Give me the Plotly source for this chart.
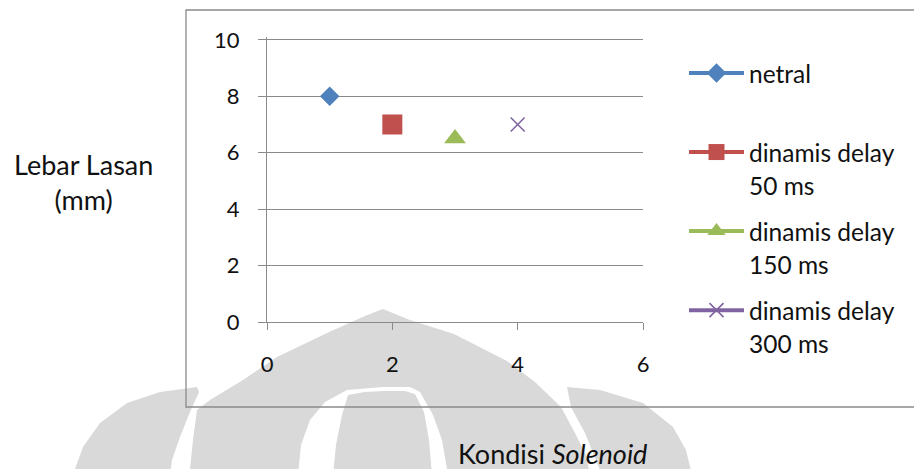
import plotly.graph_objects as go

# Data: weld width (Lebar Lasan, mm) for each solenoid condition
series_labels = [["netral", "\u00a0"],
                 ["dinamis delay", "50 ms"],
                 ["dinamis delay", "150 ms"],
                 ["dinamis delay", "300 ms"]]
kondisi = [1, 2, 3, 4]
lebar_lasan = [8, 7, 6.5, 7]
x_ticks = [0, 2, 4, 6]
y_ticks = [0, 2, 4, 6, 8, 10]

colors = ["#4F81BD", "#C0504D", "#9BBB59", "#8064A2"]
symbols = ["diamond", "square", "triangle-up", "x-thin"]
marker_sizes = [15, 20, 19, 14]

FONT = "Lato"
TEXT = "#111111"
AXIS = "#8a8a8a"
LEG_TEXT_PX = 24.5

# plot-area geometry in pixels (for placing paper-anchored decoration)
W, H = 914, 469
L, R, T, B = 267, 271, 37, 147
PW, PH = W - L - R, H - T - B


def px(x):
    return (x - L) / PW


def py(y):
    return (H - B - y) / PH


def path(points):
    return "M " + " L ".join(f"{px(x):.4f},{py(y):.4f}" for x, y in points) + " Z"


fig = go.Figure()

for i in range(len(kondisi)):
    name = "<br>".join(f'<span style="font-size:{LEG_TEXT_PX}px">{t}</span>'
                       for t in series_labels[i])
    marker = dict(symbol=symbols[i], size=marker_sizes[i], color=colors[i])
    if symbols[i] == "x-thin":
        marker["line"] = dict(width=1.6, color=colors[i])
    fig.add_trace(go.Scatter(
        x=[kondisi[i]], y=[lebar_lasan[i]],
        mode="lines+markers",
        name=name,
        legendgroup=f"g{i}",
        marker=marker,
        line=dict(color=colors[i], width=4),
        hoverinfo="x+y",
    ))

# light-grey logo watermark behind the chart
WM = "#d9d9d9"
logo_outer = [(190, 475), (190, 469), (193, 440), (197, 410), (210, 400), (243, 380),
              (277, 357), (327, 333), (365, 316), (383, 309), (410, 320), (454, 334),
              (507, 361), (535, 382), (561, 407), (575, 433), (586, 455), (590, 475)]
logo_gap = [(298, 475), (301, 445), (310, 420), (325, 402), (347, 390), (383, 387),
            (410, 387), (420, 392), (433, 415), (442, 440), (448, 475)]
logo_core = [(333, 475), (336, 445), (342, 415), (348, 395), (365, 392), (383, 391),
             (405, 391), (415, 394), (424, 412), (429, 440), (432, 475)]
logo_left = [(72, 475), (75, 469), (83, 447), (100, 423), (127, 403), (160, 392),
             (197, 387), (199, 392), (190, 412), (180, 437), (172, 460), (170, 475)]
logo_right = [(567, 387), (600, 390), (643, 403), (673, 427), (686, 450), (692, 475),
              (602, 475), (585, 433), (571, 407)]

shapes = []
for pts, fill in [(logo_left, WM), (logo_right, WM), (logo_outer, WM),
                  (logo_gap, "white"), (logo_core, WM)]:
    shapes.append(dict(type="path", xref="paper", yref="paper", path=path(pts),
                       fillcolor=fill, line=dict(width=0), layer="below"))

# chart frame
shapes.append(dict(type="rect", xref="paper", yref="paper",
                   x0=px(186), x1=px(917), y0=py(407), y1=py(10),
                   line=dict(color=AXIS, width=1.3), fillcolor="rgba(0,0,0,0)",
                   layer="below"))

fig.update_layout(
    width=W, height=H,
    margin=dict(l=L, r=R, t=T, b=B, pad=0),
    paper_bgcolor="white",
    plot_bgcolor="rgba(0,0,0,0)",
    font=dict(family=FONT, color=TEXT),
    showlegend=True,
    legend=dict(
        x=px(684), y=py(50), xanchor="left", yanchor="top",
        font=dict(family=FONT, size=25.4, color=TEXT),
        valign="top", tracegroupgap=10, itemwidth=55, maxheight=460,
        bgcolor="rgba(0,0,0,0)", borderwidth=0,
    ),
    shapes=shapes,
    annotations=[
        dict(text="Lebar Lasan<br>(mm)", xref="paper", yref="paper",
             x=px(83), y=py(182), xanchor="center", yanchor="middle",
             showarrow=False, font=dict(family=FONT, size=27, color=TEXT)),
        dict(text="Kondisi <i>Solenoid</i>", xref="paper", yref="paper",
             x=px(552), y=py(453), xanchor="center", yanchor="middle",
             showarrow=False, font=dict(family=FONT, size=27, color=TEXT)),
    ],
)

fig.update_xaxes(
    range=[0, 6], tickvals=x_ticks, showgrid=False, zeroline=False,
    showline=True, linecolor=AXIS, linewidth=1.3,
    ticks="outside", ticklen=7, tickcolor=AXIS, tickwidth=1.3,
    tickfont=dict(family=FONT, size=22, color=TEXT), ticklabelstandoff=15,
)
fig.update_yaxes(
    range=[0, 10.1], tickvals=y_ticks, showgrid=True, gridcolor=AXIS, gridwidth=1.3,
    zeroline=False, showline=True, linecolor=AXIS, linewidth=1.3,
    ticks="outside", ticklen=8, tickcolor=AXIS, tickwidth=1.3,
    tickfont=dict(family=FONT, size=22, color=TEXT), ticklabelstandoff=14,
)

fig.write_html("out.html")
